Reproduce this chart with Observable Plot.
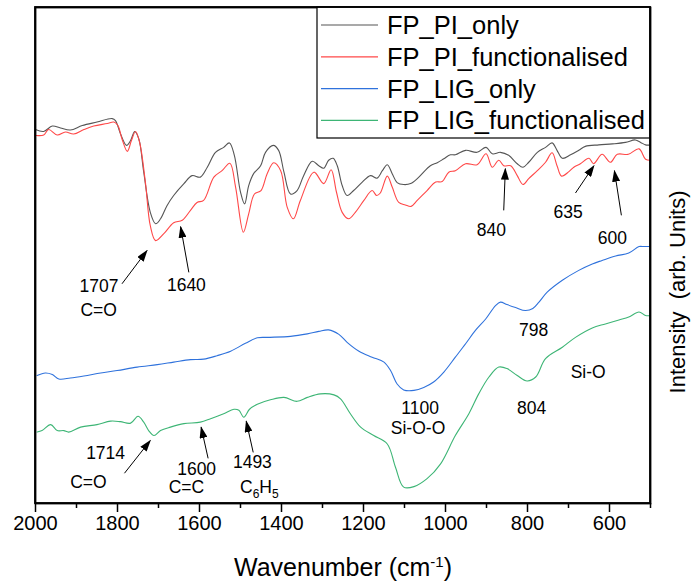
<!DOCTYPE html>
<html>
<head>
<meta charset="utf-8">
<script src="https://cdn.jsdelivr.net/npm/d3@7"></script>
<script src="https://cdn.jsdelivr.net/npm/@observablehq/plot@0.6"></script>
<style>
  body { margin: 0; background: #fff; }
  #chart { width: 693px; height: 588px; }
</style>
</head>
<body>
<div id="chart"></div>
<script>
// ---- Series names and colours ----
const seriesNames = ["FP_PI_only", "FP_PI_functionalised", "FP_LIG_only", "FP_LIG_functionalised"];
const seriesColors = ["#555555", "#ff4848", "#2f72dc", "#3db575"];

// ---- FP_PI_only ----
const piOnlyWavenumber = [2000,1980,1959,1939,1915,1886,1850,1813,1805,1793,1778,1768,1758,1748,1736,1720,1707,1695,1679,1663,1638,1618,1598,1581,1561,1541,1527,1515,1500,1490,1480,1468,1451,1439,1420,1407,1394,1378,1362,1346,1325,1309,1297,1285,1274,1264,1252,1240,1224,1203,1183,1167,1154,1142,1130,1118,1102,1085,1065,1037,1020,1004,988,976,951,923,901,886,866,846,825,811,797,776,756,740,728,715,695,675,659,626,593,561,537,524,512,500];
const piOnlyIntensity = [75.4,75.0,76.1,75.7,75.3,76.2,76.9,77.6,77.2,74.6,72.2,73.2,75.0,73.5,66.8,58.7,56.4,57.4,60.1,62.1,64.5,66.1,65.8,67.8,70.8,71.8,72.7,70.2,62.8,60.4,64.1,66.5,68.1,70.8,72.2,71.2,66.8,62.4,63.1,66.1,69.0,68.1,67.6,69.2,69.6,68.1,64.1,62.1,63.1,64.8,66.1,65.6,67.1,68.3,66.5,64.7,64.3,64.5,65.8,68.1,68.7,69.5,70.3,70.3,71.2,70.8,71.8,70.5,70.8,70.2,68.5,67.8,68.8,70.8,71.8,72.7,71.2,69.6,70.3,71.2,72.0,72.3,72.5,72.8,73.3,72.8,72.3,72.3];

// ---- FP_PI_functionalised ----
const piFuncWavenumber = [1998,1980,1968,1947,1927,1907,1882,1858,1825,1809,1799,1789,1776,1766,1756,1746,1732,1720,1707,1687,1663,1642,1622,1606,1590,1565,1545,1526,1512,1493,1480,1466,1450,1435,1419,1402,1386,1371,1354,1321,1297,1279,1266,1252,1236,1220,1199,1179,1168,1159,1142,1130,1114,1098,1084,1069,1045,1024,1008,992,976,951,923,901,886,870,858,841,825,811,797,776,756,740,728,717,699,687,671,650,639,618,598,581,554,528,512,500];
const piFuncIntensity = [74.2,74.3,75.4,74.3,74.9,74.5,75.4,76.1,76.6,76.9,76.2,73.5,71.0,73.2,75.0,72.8,64.8,56.0,53.0,54.4,56.6,57.1,59.1,60.7,61.1,65.8,67.1,68.6,63.8,54.7,58.4,62.4,63.1,66.5,68.7,67.1,59.7,57.4,61.1,66.8,64.5,67.3,62.8,58.7,57.4,58.7,61.1,63.1,62.1,62.6,66.0,63.8,60.7,60.2,59.9,61.1,63.1,64.8,64.9,66.8,67.1,68.5,68.3,70.5,67.8,69.2,68.1,68.1,66.1,64.3,65.5,67.1,68.8,70.7,68.1,66.0,66.9,67.8,68.5,69.6,68.5,70.4,68.8,70.4,70.4,71.5,69.4,69.2];

// ---- FP_LIG_only ----
const ligOnlyWavenumber = [1996,1976,1959,1943,1915,1882,1841,1801,1752,1703,1663,1622,1590,1557,1524,1488,1459,1435,1378,1337,1309,1285,1260,1240,1211,1179,1150,1134,1118,1102,1077,1053,1029,1004,976,951,927,902,878,866,850,829,805,787,772,752,715,675,642,618,585,553,528,516,500];
const ligOnlyIntensity = [25.8,26.3,26.0,25.1,25.3,25.7,26.3,26.8,27.5,28.0,28.5,29.0,29.1,29.8,30.7,32.3,33.4,33.5,33.7,34.2,34.7,35.0,34.1,32.5,30.7,29.5,28.5,26.8,24.1,22.9,22.8,23.4,24.5,26.5,29.5,32.2,34.9,37.2,39.9,40.6,40.1,39.5,38.9,39.3,40.6,42.6,45.0,47.0,48.3,49.0,49.9,50.5,51.8,51.8,51.8];

// ---- FP_LIG_functionalised ----
const ligFuncWavenumber = [1996,1984,1963,1947,1931,1919,1890,1850,1817,1793,1768,1750,1736,1724,1711,1695,1671,1638,1598,1573,1541,1516,1504,1492,1478,1459,1427,1394,1362,1337,1305,1272,1256,1232,1207,1175,1142,1122,1102,1077,1045,1012,976,943,919,894,870,850,825,801,780,756,715,683,642,610,577,553,528,512,500];
const ligFuncIntensity = [14.4,14.7,15.9,14.7,14.7,14.4,15.4,15.9,16.6,16.5,16.2,17.6,16.4,14.7,13.7,14.7,15.4,16.1,16.4,17.1,18.1,19.0,18.8,17.4,19.0,20.0,20.9,21.4,20.6,21.4,22.1,21.9,21.1,18.1,15.4,13.7,12.0,7.3,3.3,3.4,5.0,8.0,13.7,18.1,22.1,25.5,27.5,27.2,25.8,24.7,25.5,29.2,31.5,33.5,35.4,36.2,37.0,37.6,38.6,37.9,37.9];

// ---- Axis ticks ----
const xTicks = [2000, 1800, 1600, 1400, 1200, 1000, 800, 600];
const xMinorTicks = [1900, 1700, 1500, 1300, 1100, 900, 700, 500];
const xTitle = "Wavenumber (cm-1)";
const yTitle = "Intensity\u00a0 (arb. Units)";

// ---- Peak annotations (text) ----
const annotationLabels = ["1707","C=O","1640","840","635","600","1714","C=O","1600","C=C","1493","C6H5","1100","Si-O-O","798","804","Si-O"];
const annotationWavenumber = [1845,1846,1632,888,701,593,1829,1871,1607,1632,1471,1454,1062,1067,785,790,652];
const annotationIntensity = [43.8,38.9,44.0,55.1,58.7,53.5,10.1,4.2,6.9,3.2,8.3,3.2,19.2,15.1,34.9,19.2,26.4];

// ---- Peak annotations (arrows) ----
const arrowFromWavenumber = [1789,1626,858,683,571,1783,1579,1469];
const arrowFromIntensity = [44.3,46.6,59.1,62.6,58.1,6.1,9.1,10.3];
const arrowToWavenumber = [1728,1646,854,638,588,1720,1596,1486];
const arrowToIntensity = [51.0,55.8,67.5,68.1,67.1,12.7,15.4,16.6];

// ---- Build tables ----
const seriesX = [piOnlyWavenumber, piFuncWavenumber, ligOnlyWavenumber, ligFuncWavenumber];
const seriesY = [piOnlyIntensity, piFuncIntensity, ligOnlyIntensity, ligFuncIntensity];
const rows = seriesNames.flatMap((name, s) =>
  seriesX[s].slice(0, Math.min(seriesX[s].length, seriesY[s].length)).map((w, i) => ({series: name, wn: w, val: seriesY[s][i]}))
);
const annotations = annotationLabels.map((t, i) => ({text: t, wn: annotationWavenumber[i], val: annotationIntensity[i]}));
const arrows = arrowFromWavenumber.map((w, i) => ({x1: w, y1: arrowFromIntensity[i], x2: arrowToWavenumber[i], y2: arrowToIntensity[i]}));

const SVGNS = "http://www.w3.org/2000/svg";
function filledArrowHead(color) {
  const m = document.createElementNS(SVGNS, "marker");
  m.setAttribute("viewBox", "0 -4 12 8");
  m.setAttribute("refX", "11");
  m.setAttribute("refY", "0");
  m.setAttribute("markerWidth", "12");
  m.setAttribute("markerHeight", "8");
  m.setAttribute("markerUnits", "userSpaceOnUse");
  m.setAttribute("orient", "auto");
  const p = document.createElementNS(SVGNS, "path");
  p.setAttribute("d", "M0,-4L12,0L0,4Z");
  p.setAttribute("fill", color);
  p.setAttribute("stroke", "none");
  m.appendChild(p);
  return m;
}

const plot = Plot.plot({
  width: 693,
  height: 588,
  marginLeft: 35,
  marginRight: 43,
  marginTop: 7,
  marginBottom: 85,
  style: {fontFamily: "'Liberation Sans', Arial, sans-serif", background: "white", color: "black", overflow: "visible"},
  x: {domain: [2000, 500]},
  y: {domain: [0, 100], axis: null},
  color: {domain: seriesNames, range: seriesColors},
  marks: [
    Plot.line(rows, {x: "wn", y: "val", z: "series", stroke: "series", strokeWidth: 1.1, curve: "catmull-rom"}),
    Plot.link(arrows, {x1: "x1", y1: "y1", x2: "x2", y2: "y2", stroke: "black", strokeWidth: 1, markerEnd: filledArrowHead}),
    Plot.text(annotations, {x: "wn", y: "val", text: "text", fontSize: 17.5, fill: "black"}),
    Plot.axisX(xTicks, {tickSize: 9, tickPadding: 3, fontSize: 20, strokeWidth: 1.5, label: null, tickFormat: d => String(d)}),
    Plot.axisX(xMinorTicks, {tickSize: 5, text: null, strokeWidth: 1.5, label: null}),
    Plot.frame({stroke: "black", strokeWidth: 1.8}),
    Plot.text([xTitle], {text: d => d, frameAnchor: "bottom", lineAnchor: "bottom", dy: 72, fontSize: 25, fill: "black"}),
    Plot.text([yTitle], {text: d => d, frameAnchor: "right", rotate: -90, dx: 27, dy: -65, fontSize: 22, fill: "black"})
  ]
});

document.getElementById("chart").appendChild(plot);

// ---- Rich text (subscripts / superscripts) ----
function rich(node, parts) {
  node.textContent = "";
  for (const [t, dy, size] of parts) {
    const ts = document.createElementNS(SVGNS, "tspan");
    ts.textContent = t;
    if (dy) ts.setAttribute("dy", dy);
    if (size) ts.setAttribute("font-size", size);
    node.appendChild(ts);
  }
}
d3.select(plot).selectAll("text").each(function () {
  if (this.textContent === "C6H5") rich(this, [["C"], ["6", 5, 12], ["H", -5], ["5", 5, 12]]);
  else if (this.textContent === xTitle) rich(this, [["Wavenumber (cm"], ["-1", -9, 15], [")", 9]]);
});

// ---- Legend (inside the frame, top right) ----
const lg = d3.select(plot).append("g")
  .attr("font-family", "'Liberation Sans', Arial, sans-serif")
  .attr("text-anchor", "start");
lg.append("rect").attr("x", 317).attr("y", 7).attr("width", 333).attr("height", 131)
  .attr("fill", "white").attr("stroke", "black").attr("stroke-width", 1.2);
seriesNames.forEach((name, i) => {
  const cy = 25 + i * 31.8;
  lg.append("line").attr("x1", 321).attr("x2", 378).attr("y1", cy).attr("y2", cy)
    .attr("stroke", seriesColors[i]).attr("stroke-width", 1.2);
  lg.append("text").attr("x", 387).attr("y", cy).attr("dy", "0.35em")
    .attr("text-anchor", "start")
    .attr("font-size", 25.5).attr("fill", "black").text(name);
});
// Redraw frame edges above legend
d3.select(plot).append("rect").attr("x", 35).attr("y", 7).attr("width", 615).attr("height", 496)
  .attr("fill", "none").attr("stroke", "black").attr("stroke-width", 1.8);
</script>
</body>
</html>
